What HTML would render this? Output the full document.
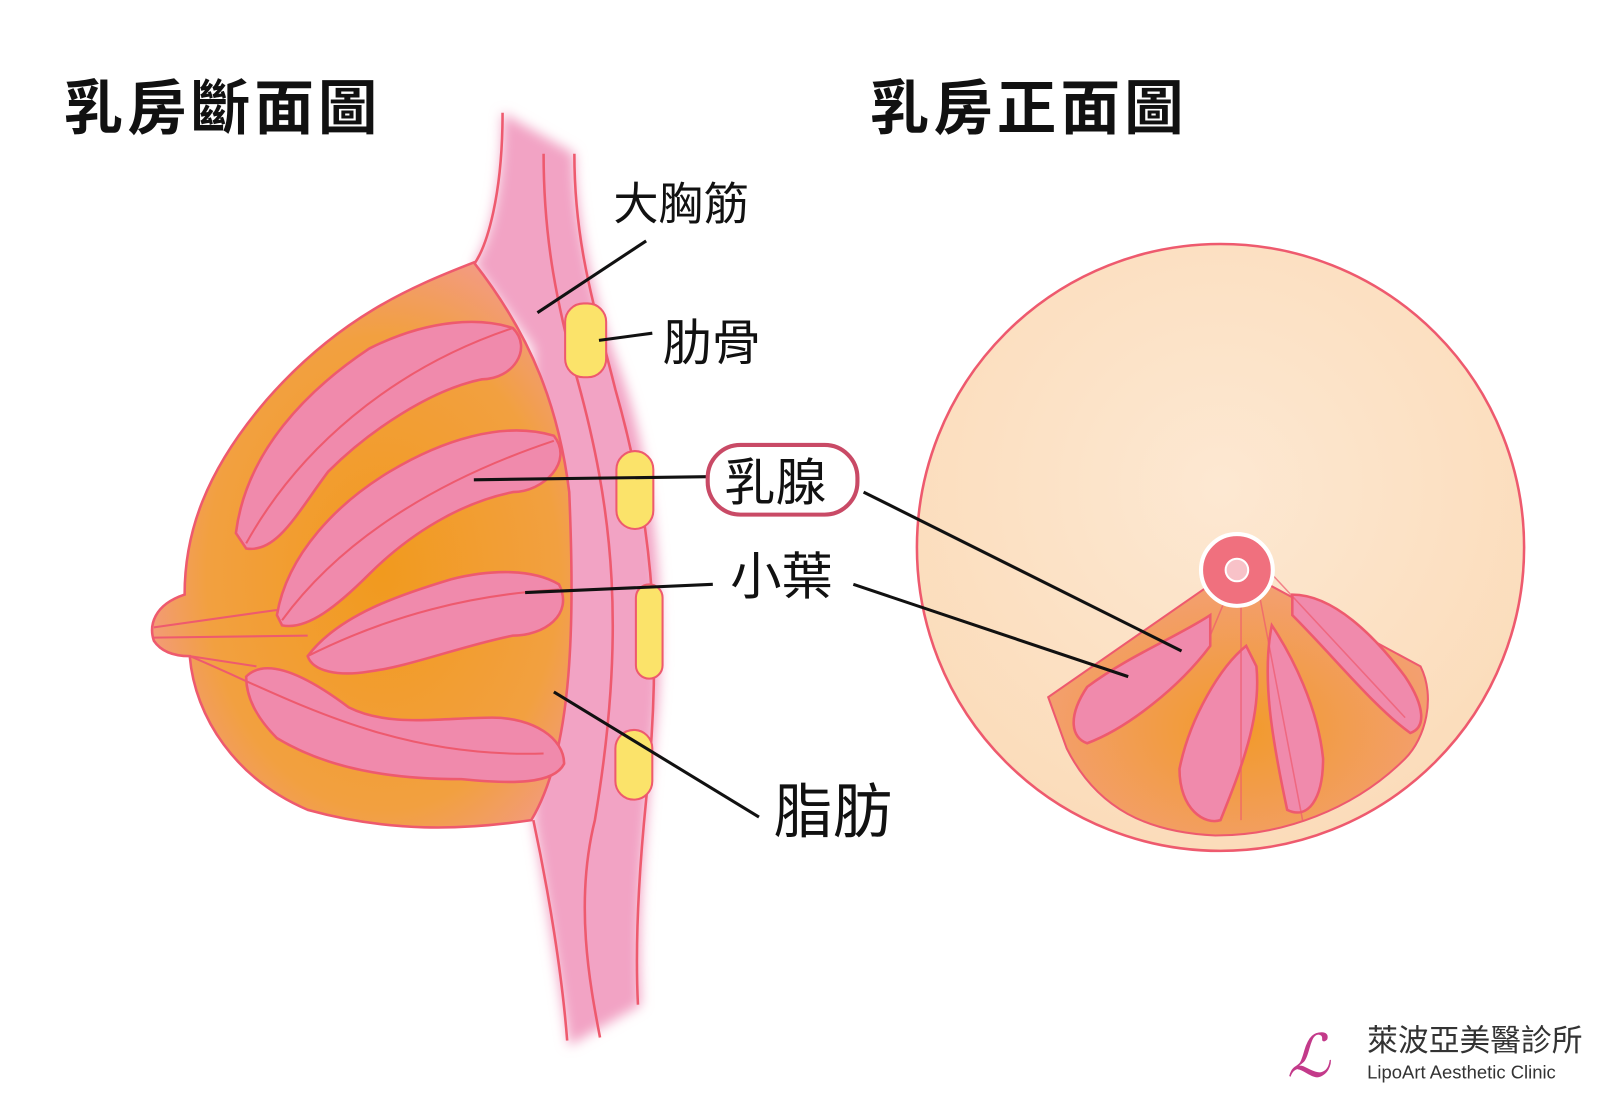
<!DOCTYPE html>
<html><head><meta charset="utf-8"><style>
html,body{margin:0;padding:0;background:#fff;width:1600px;height:1100px;overflow:hidden}
svg{display:block}
text{font-family:"Liberation Sans","Noto Sans CJK TC",sans-serif;fill:#111}
</style></head><body>
<svg width="1600" height="1100" viewBox="0 0 1560 1073" preserveAspectRatio="none" xmlns="http://www.w3.org/2000/svg">
<defs>
<radialGradient id="fat" cx="0.55" cy="0.55" r="0.6">
<stop offset="0" stop-color="#f19a1e"/><stop offset="0.7" stop-color="#f2a040"/><stop offset="1" stop-color="#f39a86"/>
</radialGradient>
<radialGradient id="fat2" cx="0.5" cy="0.6" r="0.6">
<stop offset="0" stop-color="#f29a2a"/><stop offset="1" stop-color="#f3a07a"/>
</radialGradient>
<radialGradient id="skin" cx="0.5" cy="0.4" r="0.6">
<stop offset="0" stop-color="#fde8d2"/><stop offset="1" stop-color="#fbdcba"/>
</radialGradient>
<filter id="blur"><feGaussianBlur stdDeviation="6"/></filter>
</defs>
<rect width="1560" height="1073" fill="#fff"/>

<text x="62" y="126" font-size="58" font-weight="bold" letter-spacing="4">乳房斷面圖</text>
<text x="848" y="126" font-size="58" font-weight="bold" letter-spacing="4">乳房正面圖</text>

<path d="M490 110 C490 190 475 240 462 258 L520 340 L520 800 C530 860 545 960 555 1020 L625 980 C620 900 630 800 640 700 C650 600 640 450 600 350 C575 280 560 200 560 150 Z" fill="#f2a3c4" filter="url(#blur)"/>
<path d="M490 110 C490 190 475 240 462 258" fill="none" stroke="#ee5a6e" stroke-width="2.5"/>
<path d="M530 150 C530 240 545 300 560 360 C600 500 610 620 580 800 C560 880 575 960 585 1012" fill="none" stroke="#ee5a6e" stroke-width="2.5"/>
<path d="M560 150 C560 240 580 300 600 380 C640 520 645 640 630 780 C620 880 620 940 622 980" fill="none" stroke="#ee5a6e" stroke-width="2.5"/>
<path d="M520 800 C535 870 548 950 553 1015" fill="none" stroke="#ee5a6e" stroke-width="2.5"/>
<g fill="#fbe36a" stroke="#ee5a6e" stroke-width="2">
<rect x="551" y="296" width="40" height="72" rx="18"/>
<rect x="601" y="440" width="36" height="76" rx="18"/>
<rect x="620" y="570" width="26" height="92" rx="13"/>
<rect x="600" y="712" width="36" height="68" rx="18"/>
</g>

<path d="M462 256 C400 280 330 310 260 390 C200 460 180 520 180 580 C150 590 145 610 150 625 C160 640 180 640 185 640 C190 700 230 760 300 790 C380 812 450 810 518 800 C560 730 560 600 555 480 C545 400 520 330 462 256 Z" fill="url(#fat)" stroke="#ee5a6e" stroke-width="2.5"/>
<path d="M150 612 L270 595 M150 622 L300 620 M185 640 L250 650" stroke="#ee5a6e" stroke-width="2" fill="none"/>
<g fill="#f08aac" stroke="#ee5a6e" stroke-width="2.5">
<path d="M230 520 C240 440 300 380 360 340 C420 310 470 310 500 320 C520 340 500 370 470 370 C420 380 360 420 320 460 C290 500 270 540 240 535 Z"/>
<path d="M270 600 C280 540 330 490 380 460 C430 430 490 410 540 425 C560 450 530 480 500 480 C450 490 400 520 360 560 C330 590 300 615 275 610 Z"/>
<path d="M300 640 C330 600 390 580 440 565 C480 555 520 555 545 570 C560 600 530 620 500 620 C450 630 400 650 360 655 C330 660 305 655 300 640 Z"/>
<path d="M240 660 C260 640 300 660 340 690 C380 710 430 700 480 700 C520 700 550 720 550 745 C540 765 500 765 450 760 C380 760 320 750 270 720 C250 700 240 680 240 660 Z"/>
</g>
<path d="M240 530 C290 440 380 360 500 320 M275 605 C330 530 420 470 540 430 M300 640 C380 600 460 580 545 575 M185 640 C280 680 380 740 530 735" fill="none" stroke="#ee5a6e" stroke-width="2"/>

<circle cx="1190" cy="534" r="296" fill="url(#skin)" stroke="#ee5a6e" stroke-width="2.5"/>
<path d="M1205 553 L1385 650 C1400 680 1390 720 1370 740 C1320 790 1250 815 1185 815 C1120 812 1070 790 1040 730 L1022 680 Z" fill="url(#fat2)" stroke="#ee5a6e" stroke-width="2"/>
<g fill="#f08aac" stroke="#ee5a6e" stroke-width="2.5">
<path d="M1180 600 C1150 620 1100 640 1060 670 C1040 700 1045 720 1060 725 C1100 710 1150 670 1180 630 Z"/>
<path d="M1215 630 C1190 650 1160 700 1150 750 C1150 790 1175 805 1190 800 C1210 750 1230 700 1225 650 Z"/>
<path d="M1240 610 C1230 660 1240 720 1255 790 C1275 800 1290 780 1290 740 C1285 690 1260 640 1240 610 Z"/>
<path d="M1260 580 C1300 580 1340 620 1370 660 C1390 690 1390 710 1375 715 C1340 690 1300 640 1260 600 Z"/>
</g>
<path d="M1205 560 L1180 620 M1210 565 L1210 800 M1225 565 L1270 800 M1240 560 L1370 700" stroke="#ee5a6e" stroke-width="1.5" fill="none" opacity="0.7"/>
<circle cx="1206" cy="556" r="35" fill="#f0707e" stroke="#fff" stroke-width="4"/>
<circle cx="1206" cy="556" r="11" fill="#f8c2c8" stroke="#fff" stroke-width="2"/>

<g stroke="#111" stroke-width="3" fill="none">
<line x1="630" y1="235" x2="524" y2="305"/>
<line x1="636" y1="325" x2="584" y2="332"/>
<line x1="690" y1="465" x2="462" y2="468"/>
<line x1="695" y1="570" x2="512" y2="578"/>
<line x1="540" y1="675" x2="740" y2="797"/>
<line x1="842" y1="480" x2="1152" y2="635"/>
<line x1="832" y1="570" x2="1100" y2="660"/>
</g>
<text x="598" y="214" font-size="44">大胸筋</text>
<text x="646" y="351" font-size="48">肋骨</text>
<rect x="690" y="434" width="146" height="68" rx="32" fill="#fff" stroke="#c94a66" stroke-width="4"/>
<text x="706" y="488" font-size="50">乳腺</text>
<text x="712" y="580" font-size="50">小葉</text>
<text x="754" y="812" font-size="58">脂肪</text>

<text x="1255" y="1050" font-size="58" font-style="italic" style="fill:#c33a8a" font-family="Liberation Serif,serif">&#8466;</text>
<text x="1333" y="1025" font-size="30" style="fill:#333">萊波亞美醫診所</text>
<text x="1333" y="1052" font-size="18" style="fill:#333">LipoArt Aesthetic Clinic</text>
</svg>
</body></html>
